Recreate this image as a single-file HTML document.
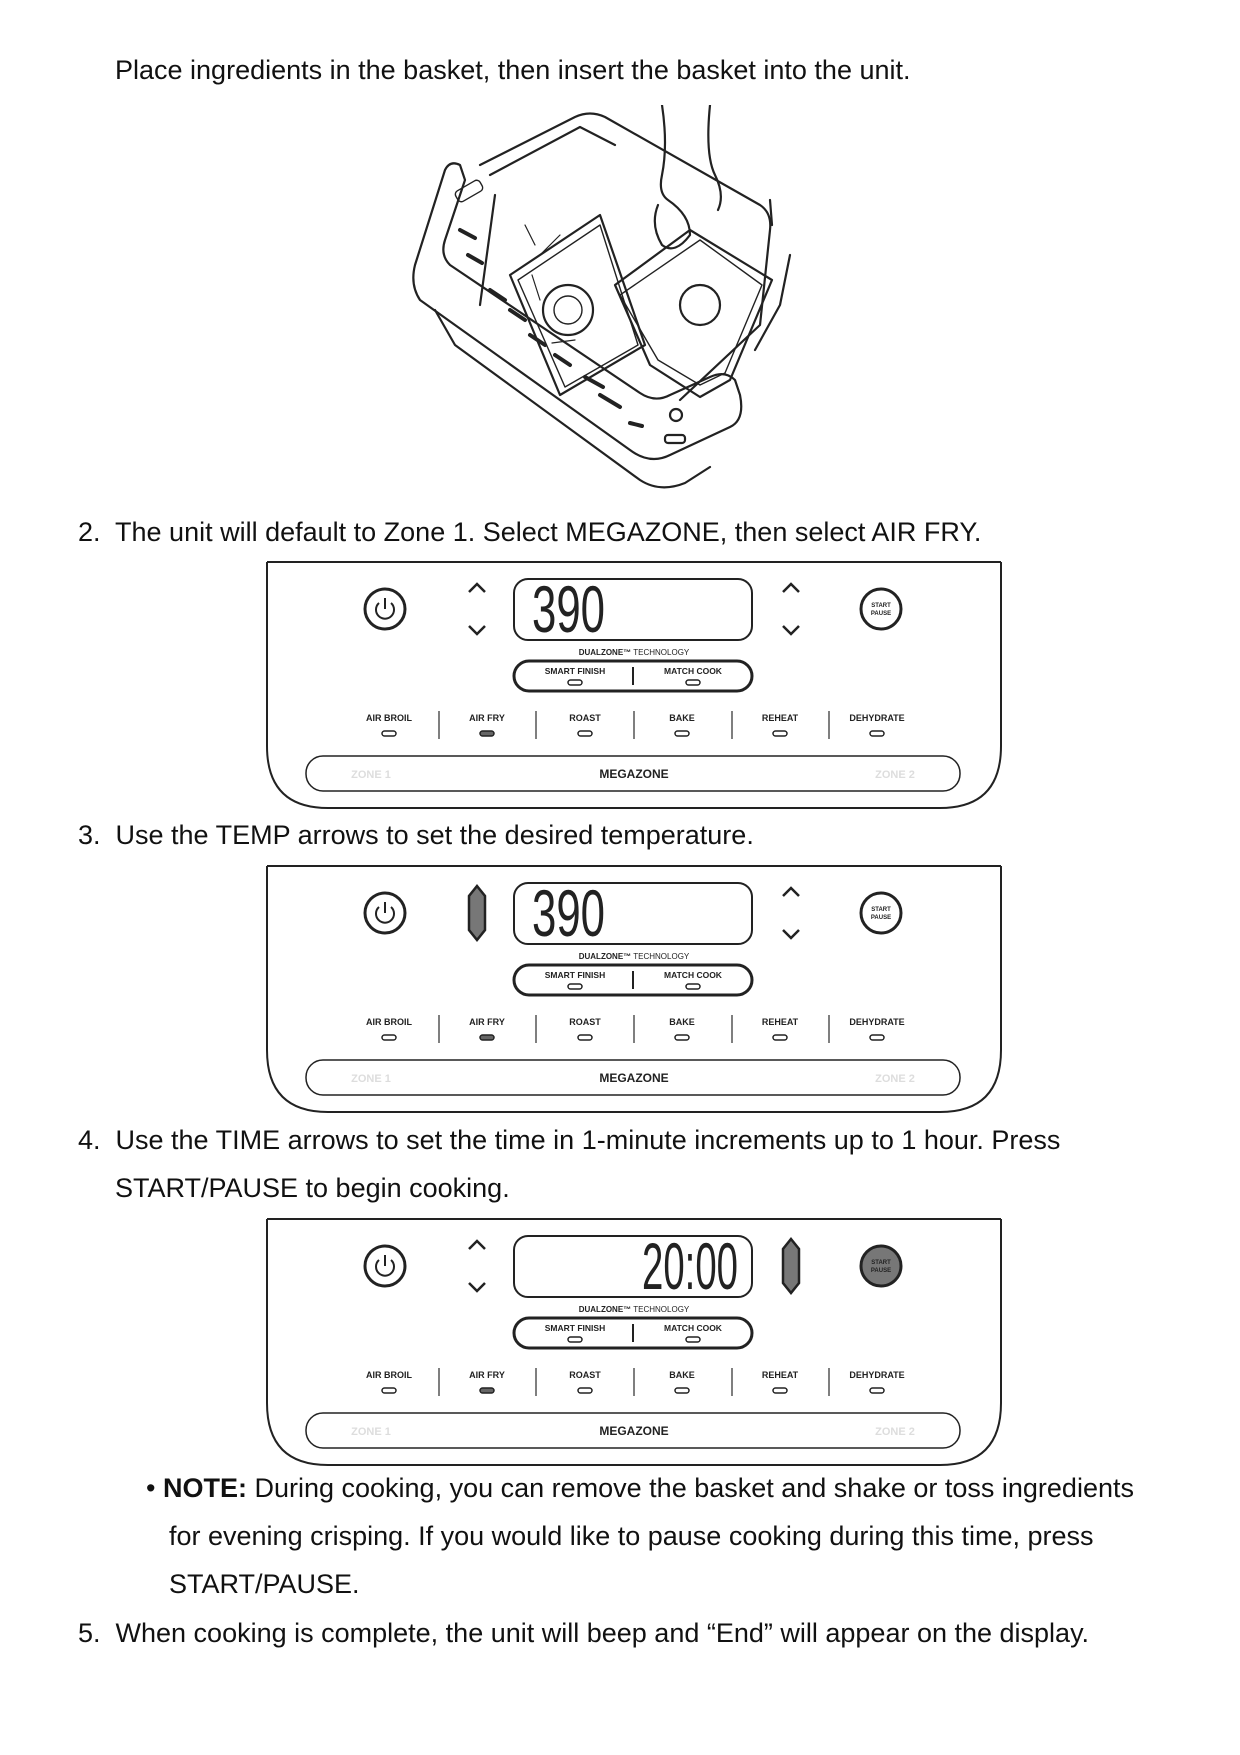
<!DOCTYPE html>
<html><head><meta charset="utf-8"><style>
body{margin:0;background:#fff;}
.pg{position:relative;width:1240px;height:1755px;overflow:hidden;font-family:"Liberation Sans",Arial,sans-serif;color:#111;}
.t{position:absolute;font-size:27px;line-height:30px;white-space:nowrap;}
svg{position:absolute;}
.lb{font-family:"Liberation Sans",sans-serif;font-weight:bold;font-size:9px;text-anchor:middle;fill:#222;}
.dg{font-family:"Liberation Sans",sans-serif;font-size:66px;fill:#222;}
</style></head><body><div class="pg">
<div class="t" style="left:115px;top:55px">Place ingredients in the basket, then insert the basket into the unit.</div>
<div class="t" style="left:78px;top:517px">2.&nbsp; The unit will default to Zone 1. Select MEGAZONE, then select AIR FRY.</div>
<div class="t" style="left:78px;top:820px">3.&nbsp; Use the TEMP arrows to set the desired temperature.</div>
<div class="t" style="left:78px;top:1125px">4.&nbsp; Use the TIME arrows to set the time in 1-minute increments up to 1 hour. Press</div>
<div class="t" style="left:115px;top:1173px">START/PAUSE to begin cooking.</div>
<div class="t" style="left:146px;top:1473px">•&nbsp;<b>NOTE:</b> During cooking, you can remove the basket and shake or toss ingredients</div>
<div class="t" style="left:169px;top:1521px">for evening crisping. If you would like to pause cooking during this time, press</div>
<div class="t" style="left:169px;top:1569px">START/PAUSE.</div>
<div class="t" style="left:78px;top:1618px">5.&nbsp; When cooking is complete, the unit will beep and “End” will appear on the display.</div>

<!-- illustration -->
<svg style="left:400px;top:105px" width="480" height="395" viewBox="0 0 480 395" fill="none" stroke="#222" stroke-width="2.2" stroke-linejoin="round" stroke-linecap="round">
<path d="M60,60 Q50,55 45,65 L15,160 Q10,180 20,195 L230,345 Q250,360 270,350 L330,322 Q345,315 340,290 L335,275 Q325,265 310,272 L270,290 Q255,298 240,288 L50,160 Q40,150 45,135 L65,75 Z"/>
<path d="M35,205 L55,240 L240,375 Q260,388 285,378 L310,362"/>
<path d="M80,60 L175,12 Q190,5 205,12 L360,100 Q372,108 370,125 L360,220 L280,295"/>
<path d="M90,70 L180,22 L215,40"/>
<path d="M95,90 L80,200 M110,170 L200,110 L245,240 L160,290 Z"/>
<path d="M215,180 L290,125 L372,175 L330,275 L300,292 L250,260 Z" />
<path d="M220,190 L300,135 L362,180 L325,268 L300,280 L258,255 Z" stroke-width="1.4"/>
<path d="M118,175 L200,120 L238,240 L165,282 Z" stroke-width="1.4"/>
<circle cx="168" cy="205" r="25"/><circle cx="168" cy="205" r="14" stroke-width="1.4"/>
<circle cx="300" cy="200" r="20"/>
<path d="M262,0 Q268,40 262,70 Q258,88 268,95 Q290,110 290,130 Q275,150 262,140 Q250,120 258,100 M310,0 Q305,50 315,70 Q325,90 318,105"/>
<path d="M140,195 L132,170 M152,238 L175,235 M135,140 L125,120 M160,130 L140,150" stroke-width="1.2"/>
<path d="M60,125 l15,8 M68,150 l14,8 M90,185 l15,10 M110,205 l15,10 M130,230 l15,10 M155,250 l15,10 M185,272 l18,10 M200,290 l20,12 M230,318 l12,3" stroke-width="4"/>
<path d="M370,95 L372,120 M390,150 L380,200 L355,245" />
<rect x="55" y="80" width="28" height="12" rx="4" transform="rotate(-30 69 86)" stroke-width="1.4"/>
<rect x="265" y="330" width="20" height="8" rx="3"/>
<circle cx="276" cy="310" r="6"/>
</svg>

<!-- panel 1 -->
<svg style="left:266px;top:561px" width="736" height="250" viewBox="0 0 736 250" fill="none" stroke="#222">
<path d="M1,1 L1,185 Q1,247 62,247 L674,247 Q735,247 735,185 L735,1 M1,1 L735,1" stroke-width="2"/>
<circle cx="119" cy="48" r="20" stroke-width="3"/><path d="M113,42 A9,9 0 1,0 125,42 M119,37 V48" stroke-width="2"/>
<path d="M203,31 L211,23 L219,31 M203,65 L211,73 L219,65" stroke-width="2.5"/>
<rect x="248" y="18" width="238" height="61" rx="14" stroke-width="2"/>
<text x="266" y="71" class="dg" stroke="none" textLength="73" lengthAdjust="spacingAndGlyphs">390</text>
<path d="M517,31 L525,23 L533,31 M517,65 L525,73 L533,65" stroke-width="2.5"/>
<circle cx="615" cy="48" r="20" stroke-width="3"/>
<text x="615" y="46" class="lb" style="font-size:6px" stroke="none">START</text><text x="615" y="54" class="lb" style="font-size:6px" stroke="none">PAUSE</text>
<text x="368" y="94" class="lb" style="font-size:8px;font-weight:normal" stroke="none"><tspan font-weight="bold">DUALZONE™</tspan> TECHNOLOGY</text>
<rect x="248" y="100" width="238" height="30" rx="15" stroke-width="3"/>
<path d="M367,106 V124" stroke-width="2"/>
<text x="309" y="113" class="lb" style="font-size:8.5px" stroke="none">SMART FINISH</text>
<text x="427" y="113" class="lb" style="font-size:8.5px" stroke="none">MATCH COOK</text>
<rect x="302" y="119" width="14" height="5" rx="2.5" stroke-width="1.5"/><rect x="420" y="119" width="14" height="5" rx="2.5" stroke-width="1.5"/>
<g stroke="none"><text x="123" y="160" class="lb">AIR BROIL</text><text x="221" y="160" class="lb">AIR FRY</text><text x="319" y="160" class="lb">ROAST</text><text x="416" y="160" class="lb">BAKE</text><text x="514" y="160" class="lb">REHEAT</text><text x="611" y="160" class="lb">DEHYDRATE</text></g>
<g stroke-width="1.5"><rect x="116" y="170" width="14" height="5" rx="2.5"/><rect x="214" y="170" width="14" height="5" rx="2.5" fill="#666"/><rect x="312" y="170" width="14" height="5" rx="2.5"/><rect x="409" y="170" width="14" height="5" rx="2.5"/><rect x="507" y="170" width="14" height="5" rx="2.5"/><rect x="604" y="170" width="14" height="5" rx="2.5"/></g>
<path d="M173,150 V178 M270,150 V178 M368,150 V178 M466,150 V178 M563,150 V178" stroke-width="1.5" stroke="#555"/>
<rect x="40" y="195" width="654" height="35" rx="17" stroke-width="1.5"/>
<g stroke="none"><text x="105" y="217" class="lb" style="font-size:11px;fill:#ddd">ZONE 1</text><text x="368" y="217" class="lb" style="font-size:12px">MEGAZONE</text><text x="629" y="217" class="lb" style="font-size:11px;fill:#ddd">ZONE 2</text></g>
</svg>

<!-- panel 2 -->
<svg style="left:266px;top:865px" width="736" height="250" viewBox="0 0 736 250" fill="none" stroke="#222">
<path d="M1,1 L1,185 Q1,247 62,247 L674,247 Q735,247 735,185 L735,1 M1,1 L735,1" stroke-width="2"/>
<circle cx="119" cy="48" r="20" stroke-width="3"/><path d="M113,42 A9,9 0 1,0 125,42 M119,37 V48" stroke-width="2"/>
<path d="M211,21 L219,31 L219,65 L211,75 L203,65 L203,31 Z" fill="#777" stroke-width="2.5"/>
<rect x="248" y="18" width="238" height="61" rx="14" stroke-width="2"/>
<text x="266" y="71" class="dg" stroke="none" textLength="73" lengthAdjust="spacingAndGlyphs">390</text>
<path d="M517,31 L525,23 L533,31 M517,65 L525,73 L533,65" stroke-width="2.5"/>
<circle cx="615" cy="48" r="20" stroke-width="3"/>
<text x="615" y="46" class="lb" style="font-size:6px" stroke="none">START</text><text x="615" y="54" class="lb" style="font-size:6px" stroke="none">PAUSE</text>
<text x="368" y="94" class="lb" style="font-size:8px;font-weight:normal" stroke="none"><tspan font-weight="bold">DUALZONE™</tspan> TECHNOLOGY</text>
<rect x="248" y="100" width="238" height="30" rx="15" stroke-width="3"/>
<path d="M367,106 V124" stroke-width="2"/>
<text x="309" y="113" class="lb" style="font-size:8.5px" stroke="none">SMART FINISH</text>
<text x="427" y="113" class="lb" style="font-size:8.5px" stroke="none">MATCH COOK</text>
<rect x="302" y="119" width="14" height="5" rx="2.5" stroke-width="1.5"/><rect x="420" y="119" width="14" height="5" rx="2.5" stroke-width="1.5"/>
<g stroke="none"><text x="123" y="160" class="lb">AIR BROIL</text><text x="221" y="160" class="lb">AIR FRY</text><text x="319" y="160" class="lb">ROAST</text><text x="416" y="160" class="lb">BAKE</text><text x="514" y="160" class="lb">REHEAT</text><text x="611" y="160" class="lb">DEHYDRATE</text></g>
<g stroke-width="1.5"><rect x="116" y="170" width="14" height="5" rx="2.5"/><rect x="214" y="170" width="14" height="5" rx="2.5" fill="#666"/><rect x="312" y="170" width="14" height="5" rx="2.5"/><rect x="409" y="170" width="14" height="5" rx="2.5"/><rect x="507" y="170" width="14" height="5" rx="2.5"/><rect x="604" y="170" width="14" height="5" rx="2.5"/></g>
<path d="M173,150 V178 M270,150 V178 M368,150 V178 M466,150 V178 M563,150 V178" stroke-width="1.5" stroke="#555"/>
<rect x="40" y="195" width="654" height="35" rx="17" stroke-width="1.5"/>
<g stroke="none"><text x="105" y="217" class="lb" style="font-size:11px;fill:#ddd">ZONE 1</text><text x="368" y="217" class="lb" style="font-size:12px">MEGAZONE</text><text x="629" y="217" class="lb" style="font-size:11px;fill:#ddd">ZONE 2</text></g>
</svg>

<!-- panel 3 -->
<svg style="left:266px;top:1218px" width="736" height="250" viewBox="0 0 736 250" fill="none" stroke="#222">
<path d="M1,1 L1,185 Q1,247 62,247 L674,247 Q735,247 735,185 L735,1 M1,1 L735,1" stroke-width="2"/>
<circle cx="119" cy="48" r="20" stroke-width="3"/><path d="M113,42 A9,9 0 1,0 125,42 M119,37 V48" stroke-width="2"/>
<path d="M203,31 L211,23 L219,31 M203,65 L211,73 L219,65" stroke-width="2.5"/>
<rect x="248" y="18" width="238" height="61" rx="14" stroke-width="2"/>
<text x="376" y="71" class="dg" stroke="none" textLength="96" lengthAdjust="spacingAndGlyphs">20:00</text>
<path d="M525,21 L533,31 L533,65 L525,75 L517,65 L517,31 Z" fill="#777" stroke-width="2.5"/>
<circle cx="615" cy="48" r="20" stroke-width="3" fill="#777"/>
<text x="615" y="46" class="lb" style="font-size:6px" stroke="none">START</text><text x="615" y="54" class="lb" style="font-size:6px" stroke="none">PAUSE</text>
<text x="368" y="94" class="lb" style="font-size:8px;font-weight:normal" stroke="none"><tspan font-weight="bold">DUALZONE™</tspan> TECHNOLOGY</text>
<rect x="248" y="100" width="238" height="30" rx="15" stroke-width="3"/>
<path d="M367,106 V124" stroke-width="2"/>
<text x="309" y="113" class="lb" style="font-size:8.5px" stroke="none">SMART FINISH</text>
<text x="427" y="113" class="lb" style="font-size:8.5px" stroke="none">MATCH COOK</text>
<rect x="302" y="119" width="14" height="5" rx="2.5" stroke-width="1.5"/><rect x="420" y="119" width="14" height="5" rx="2.5" stroke-width="1.5"/>
<g stroke="none"><text x="123" y="160" class="lb">AIR BROIL</text><text x="221" y="160" class="lb">AIR FRY</text><text x="319" y="160" class="lb">ROAST</text><text x="416" y="160" class="lb">BAKE</text><text x="514" y="160" class="lb">REHEAT</text><text x="611" y="160" class="lb">DEHYDRATE</text></g>
<g stroke-width="1.5"><rect x="116" y="170" width="14" height="5" rx="2.5"/><rect x="214" y="170" width="14" height="5" rx="2.5" fill="#666"/><rect x="312" y="170" width="14" height="5" rx="2.5"/><rect x="409" y="170" width="14" height="5" rx="2.5"/><rect x="507" y="170" width="14" height="5" rx="2.5"/><rect x="604" y="170" width="14" height="5" rx="2.5"/></g>
<path d="M173,150 V178 M270,150 V178 M368,150 V178 M466,150 V178 M563,150 V178" stroke-width="1.5" stroke="#555"/>
<rect x="40" y="195" width="654" height="35" rx="17" stroke-width="1.5"/>
<g stroke="none"><text x="105" y="217" class="lb" style="font-size:11px;fill:#ddd">ZONE 1</text><text x="368" y="217" class="lb" style="font-size:12px">MEGAZONE</text><text x="629" y="217" class="lb" style="font-size:11px;fill:#ddd">ZONE 2</text></g>
</svg>
</div></body></html>
